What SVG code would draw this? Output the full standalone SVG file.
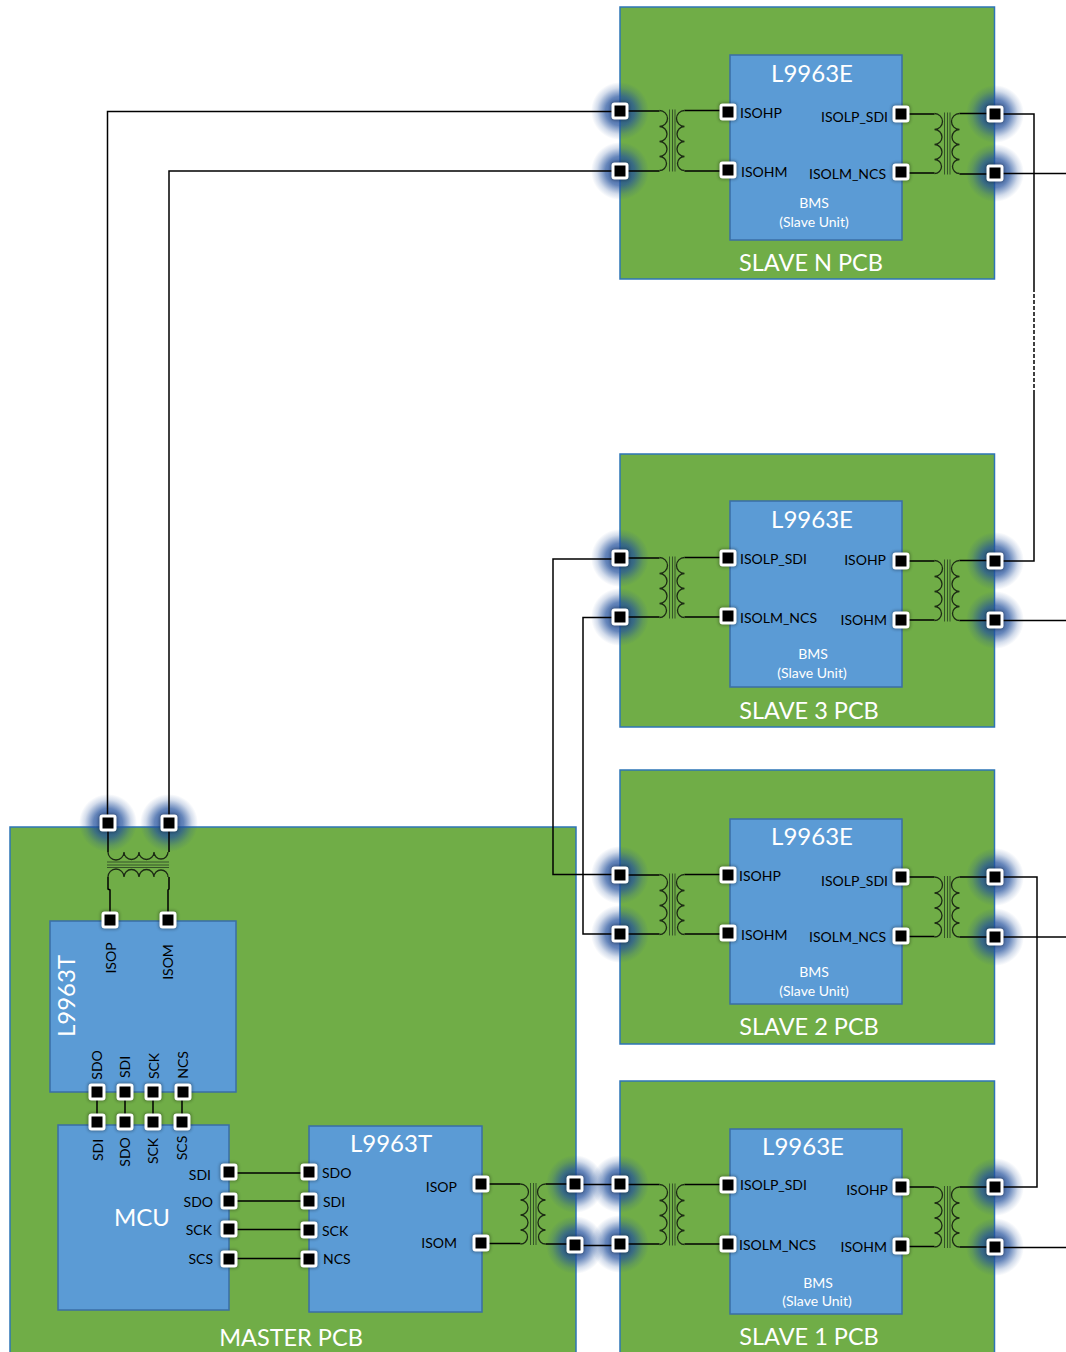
<svg xmlns="http://www.w3.org/2000/svg" xmlns:xlink="http://www.w3.org/1999/xlink" width="1066" height="1352" viewBox="0 0 1066 1352">
<style>
text{font-family:Lato,"Noto Sans","Liberation Sans",sans-serif;fill:#000}
.board{fill:#70AD47;stroke:#2E75B6;stroke-width:1.5}
.chip{fill:#5B9BD5;stroke:#3A6EA5;stroke-width:1.5}
.t{font-size:14px}
.m{text-anchor:middle}
.e{text-anchor:end}
.w{fill:#fff}
.big{font-size:24px}
.pcb{font-size:23.500px}
.sm{font-size:14px;fill:#fff;text-anchor:middle}
.wire{fill:none;stroke:#000;stroke-width:1.5}
.coil{fill:none;stroke:#1c2b14;stroke-width:1.3}
.bar{stroke:#2f4a26;stroke-width:.9}
.pb{fill:#fff}
.pk{fill:#000}
</style>
<defs>
<radialGradient id="gl">
<stop offset="0" stop-color="#1F4E9E" stop-opacity=".95"/>
<stop offset=".5" stop-color="#22509C" stop-opacity=".7"/>
<stop offset=".8" stop-color="#22509C" stop-opacity=".2"/>
<stop offset="1" stop-color="#22509C" stop-opacity="0"/>
</radialGradient>
<filter id="sh" x="-40%" y="-40%" width="180%" height="180%"><feGaussianBlur stdDeviation="1.5"/></filter>
<g id="glow"><circle r="29" fill="url(#gl)"/></g>
<g id="pin">
<rect x="-9.5" y="-9.500" width="19" height="19" rx="4" fill="#000" opacity=".3" filter="url(#sh)"/>
<rect class="pb" x="-8.500" y="-8.500" width="17" height="17" rx="3"/>
<rect class="pk" x="-5.500" y="-5.500" width="11" height="11"/>
</g>
<g id="xf">
<path class="coil" d="M-12.500 0A8 8 0 0 1-12.500 16A7.500 7.500 0 0 1-12.500 31A7.500 7.500 0 0 1-12.500 46A7 7 0 0 1-12.500 60"/>
<path class="coil" d="M12.500 0A8 8 0 0 0 12.500 16A7.500 7.500 0 0 0 12.500 31A7.500 7.500 0 0 0 12.500 46A7 7 0 0 0 12.500 60"/>
<path class="bar" d="M-2.500-1V61M0.500-1V61M3-1V61"/>
</g>
</defs>
<rect width="1066" height="1352" fill="#fff"/>

<g id="master-pcb">
<rect class="board" x="10" y="827" width="566" height="540"/>
<text class="pcb w m" x="291" y="1346">MASTER PCB</text>
</g>
<g id="slave-n-pcb">
<rect class="board" x="620" y="7" width="374.500" height="272"/>
<text class="pcb w m" x="811" y="271">SLAVE N PCB</text>
</g>
<g id="slave-3-pcb">
<rect class="board" x="620" y="454" width="374.500" height="273"/>
<text class="pcb w m" x="809" y="719">SLAVE 3 PCB</text>
</g>
<g id="slave-2-pcb">
<rect class="board" x="620" y="770" width="374.500" height="274"/>
<text class="pcb w m" x="809" y="1035">SLAVE 2 PCB</text>
</g>
<g id="slave-1-pcb">
<rect class="board" x="620" y="1081" width="374.500" height="286"/>
<text class="pcb w m" x="809" y="1345">SLAVE 1 PCB</text>
</g>

<g id="glows">
<use href="#glow" x="620" y="111"/><use href="#glow" x="620" y="171"/><use href="#glow" x="995" y="114"/><use href="#glow" x="995" y="173"/>
<use href="#glow" x="620" y="558"/><use href="#glow" x="620" y="617"/><use href="#glow" x="995" y="561"/><use href="#glow" x="995" y="620"/>
<use href="#glow" x="620" y="875"/><use href="#glow" x="620" y="934"/><use href="#glow" x="995" y="877"/><use href="#glow" x="995" y="937"/>
<use href="#glow" x="620" y="1184"/><use href="#glow" x="620" y="1244"/><use href="#glow" x="995" y="1187"/><use href="#glow" x="995" y="1247"/>
<use href="#glow" x="575" y="1184"/><use href="#glow" x="575" y="1245"/>
<use href="#glow" x="108" y="823"/><use href="#glow" x="169" y="823"/>
</g>

<g id="chip-l9963e-n">
<rect class="chip" x="730" y="55" width="172" height="185"/>
<text class="big w m" x="812" y="82">L9963E</text>
<text class="t" x="740" y="118">ISOHP</text><text class="t" x="741" y="177">ISOHM</text>
<text class="t e" x="888" y="122">ISOLP_SDI</text><text class="t e" x="886" y="179">ISOLM_NCS</text>
<text class="sm" x="814" y="208">BMS</text><text class="sm" x="814" y="227">(Slave Unit)</text>
</g>
<g id="chip-l9963e-3">
<rect class="chip" x="730" y="501" width="172" height="186"/>
<text class="big w m" x="812" y="528">L9963E</text>
<text class="t" x="740" y="564">ISOLP_SDI</text><text class="t" x="740" y="623">ISOLM_NCS</text>
<text class="t e" x="886" y="565">ISOHP</text><text class="t e" x="887" y="625">ISOHM</text>
<text class="sm" x="813" y="659">BMS</text><text class="sm" x="812" y="678">(Slave Unit)</text>
</g>
<g id="chip-l9963e-2">
<rect class="chip" x="730" y="819" width="172" height="185"/>
<text class="big w m" x="812" y="845">L9963E</text>
<text class="t" x="739" y="881">ISOHP</text><text class="t" x="741" y="940">ISOHM</text>
<text class="t e" x="888" y="886">ISOLP_SDI</text><text class="t e" x="886" y="942">ISOLM_NCS</text>
<text class="sm" x="814" y="977">BMS</text><text class="sm" x="814" y="996">(Slave Unit)</text>
</g>
<g id="chip-l9963e-1">
<rect class="chip" x="730" y="1129" width="172" height="185"/>
<text class="big w m" x="803" y="1155">L9963E</text>
<text class="t" x="740" y="1190">ISOLP_SDI</text><text class="t" x="739" y="1250">ISOLM_NCS</text>
<text class="t e" x="888" y="1195">ISOHP</text><text class="t e" x="887" y="1252">ISOHM</text>
<text class="sm" x="818" y="1288">BMS</text><text class="sm" x="817" y="1306">(Slave Unit)</text>
</g>
<g id="chip-l9963t-top">
<rect class="chip" x="50" y="921" width="186" height="171"/>
<text class="big w m" transform="translate(74.500 996) rotate(-90)">L9963T</text>
<text class="t m" transform="translate(116 958) rotate(-90)">ISOP</text>
<text class="t m" transform="translate(173 962) rotate(-90)">ISOM</text>
<text class="t m" transform="translate(102 1065) rotate(-90)">SDO</text>
<text class="t m" transform="translate(130 1067) rotate(-90)">SDI</text>
<text class="t m" transform="translate(159 1066) rotate(-90)">SCK</text>
<text class="t m" transform="translate(188 1065) rotate(-90)">NCS</text>
</g>
<g id="chip-mcu">
<rect class="chip" x="58" y="1125" width="171" height="185"/>
<text class="big w m" x="142" y="1226">MCU</text>
<text class="t m" transform="translate(103 1150) rotate(-90)">SDI</text>
<text class="t m" transform="translate(130 1152) rotate(-90)">SDO</text>
<text class="t m" transform="translate(158 1151) rotate(-90)">SCK</text>
<text class="t m" transform="translate(187 1148) rotate(-90)">SCS</text>
<text class="t e" x="211" y="1180">SDI</text><text class="t e" x="213" y="1207">SDO</text>
<text class="t e" x="212" y="1235">SCK</text><text class="t e" x="213" y="1264">SCS</text>
</g>
<g id="chip-l9963t-bottom">
<rect class="chip" x="309" y="1126" width="173" height="186"/>
<text class="big w m" x="391" y="1152">L9963T</text>
<text class="t" x="322" y="1178">SDO</text><text class="t" x="323" y="1207">SDI</text>
<text class="t" x="322" y="1236">SCK</text><text class="t" x="323" y="1264">NCS</text>
<text class="t e" x="457" y="1192">ISOP</text><text class="t e" x="457" y="1248">ISOM</text>
</g>

<g id="connectors">
<path class="wire" d="M620 111.500H107.500V823"/>
<path class="wire" d="M620 171H169V823"/>
<path class="wire" d="M995 114H1034V288M1034 393V561H995"/>
<path class="wire" d="M1034 288V393" stroke-dasharray="4 2"/>
<path class="wire" d="M995 173.500H1066"/>
<path class="wire" d="M995 620.500H1066"/>
<path class="wire" d="M995 937H1066"/>
<path class="wire" d="M995 1247.500H1066"/>
<path class="wire" d="M995 877H1037V1187H995"/>
<path class="wire" d="M620 559H553V874.500H620"/>
<path class="wire" d="M620 617.500H583V934H620"/>
<path class="wire" d="M575 1184.500H620"/>
<path class="wire" d="M575 1245.500H620"/>
<path class="wire" d="M229 1173H309M229 1201H309M229 1229.500H309M229 1258.500H309"/>
<path class="wire" d="M97 1092V1122M125 1092V1122M153 1092V1122M182 1092V1122"/>

<path class="wire" d="M620 111H659.500M684.500 110.500H728M620 171H659.500M684.500 171H728"/>
<path class="wire" d="M901 114H934.500M959.500 113.500H995M901 173H934.500M959.500 174H995"/>
<path class="wire" d="M620 558H659.500M684.500 557.500H728M620 617H659.500M684.500 617H728"/>
<path class="wire" d="M901 561H934.500M959.500 560.500H995M901 620H934.500M959.500 620.500H995"/>
<path class="wire" d="M620 875H659.500M684.500 874.500H728M620 934H659.500M684.500 934H728"/>
<path class="wire" d="M901 877H934.500M959.500 877H995M901 936.500H934.500M959.500 937H995"/>
<path class="wire" d="M620 1184.500H659.500M684.500 1184.500H728M620 1244H659.500M684.500 1244H728"/>
<path class="wire" d="M901 1187H934.500M959.500 1187H995M901 1246.500H934.500M959.500 1247H995"/>
<path class="wire" d="M481 1184H520.500M545.500 1184H575M481 1243.500H520.500M545.500 1244H575"/>

<use href="#xf" x="672" y="110.500"/>
<use href="#xf" x="947" y="113.500"/>
<use href="#xf" x="672" y="557.500"/>
<use href="#xf" x="947" y="560.500"/>
<use href="#xf" x="672" y="874.500"/>
<use href="#xf" x="947" y="877"/>
<use href="#xf" x="672" y="1184.500"/>
<use href="#xf" x="947" y="1187"/>
<use href="#xf" x="533" y="1184"/>
<use href="#xf" transform="matrix(0 1 1 0 108 864.500)"/>
<path class="wire" d="M108 823V852M169 823V852M110 920V890L108 889V877M168 920V890L169 889V877"/>
</g>

<g id="pins">
<use href="#pin" x="620" y="111"/><use href="#pin" x="620" y="171"/><use href="#pin" x="728" y="112"/><use href="#pin" x="728" y="170"/>
<use href="#pin" x="901" y="114"/><use href="#pin" x="901" y="172"/><use href="#pin" x="995" y="114"/><use href="#pin" x="995" y="173"/>
<use href="#pin" x="620" y="558"/><use href="#pin" x="620" y="617"/><use href="#pin" x="728" y="558"/><use href="#pin" x="728" y="616"/>
<use href="#pin" x="901" y="561"/><use href="#pin" x="901" y="620"/><use href="#pin" x="995" y="561"/><use href="#pin" x="995" y="620"/>
<use href="#pin" x="620" y="875"/><use href="#pin" x="620" y="934"/><use href="#pin" x="728" y="875"/><use href="#pin" x="728" y="933"/>
<use href="#pin" x="901" y="877"/><use href="#pin" x="901" y="936"/><use href="#pin" x="995" y="877"/><use href="#pin" x="995" y="937"/>
<use href="#pin" x="620" y="1184"/><use href="#pin" x="620" y="1244"/><use href="#pin" x="728" y="1185"/><use href="#pin" x="728" y="1244"/>
<use href="#pin" x="901" y="1187"/><use href="#pin" x="901" y="1246"/><use href="#pin" x="995" y="1187"/><use href="#pin" x="995" y="1247"/>
<use href="#pin" x="481" y="1184"/><use href="#pin" x="481" y="1243"/><use href="#pin" x="575" y="1184"/><use href="#pin" x="575" y="1245"/>
<use href="#pin" x="108" y="823"/><use href="#pin" x="169" y="823"/><use href="#pin" x="110" y="920"/><use href="#pin" x="168" y="920"/>
<use href="#pin" x="97" y="1092"/><use href="#pin" x="125" y="1092"/><use href="#pin" x="153" y="1092"/><use href="#pin" x="183" y="1092"/>
<use href="#pin" x="97" y="1122"/><use href="#pin" x="125" y="1122"/><use href="#pin" x="153" y="1122"/><use href="#pin" x="182" y="1122"/>
<use href="#pin" x="229" y="1172"/><use href="#pin" x="229" y="1201"/><use href="#pin" x="229" y="1229"/><use href="#pin" x="229" y="1259"/>
<use href="#pin" x="309" y="1172"/><use href="#pin" x="309" y="1201"/><use href="#pin" x="309" y="1230"/><use href="#pin" x="309" y="1259"/>
</g>
</svg>
